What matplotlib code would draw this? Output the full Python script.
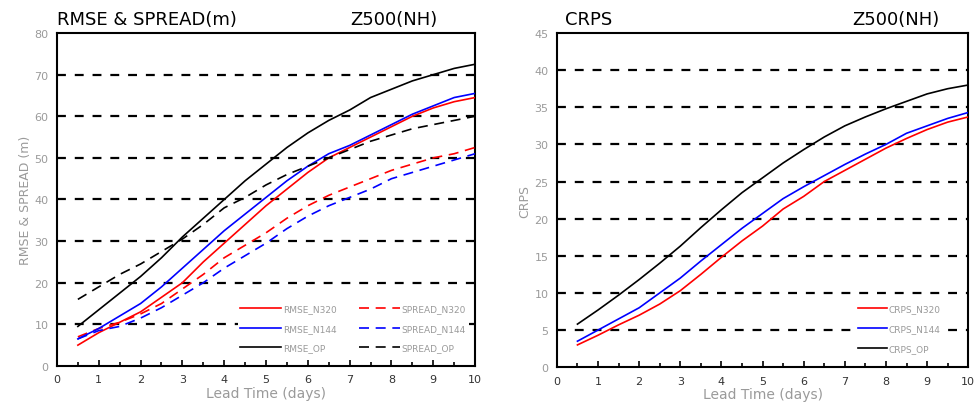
import matplotlib
matplotlib.use("Agg")
import matplotlib.pyplot as plt
from matplotlib.ticker import MultipleLocator

plt.rcParams['font.family'] = ['DejaVu Sans']

days = [0.5, 1, 1.5, 2, 2.5, 3, 3.5, 4, 4.5, 5, 5.5, 6, 6.5, 7, 7.5, 8, 8.5, 9, 9.5, 10]

rmse_n320 = [5, 8, 10.5, 13, 16.5, 20, 25, 29.5, 34, 38.5, 42.5, 46.5, 50, 52.5, 55, 57.5, 60, 62, 63.5, 64.5]
rmse_n144 = [6.5, 9, 12, 15, 19, 23.5, 28, 32.5, 36.5, 40.5, 44.5, 48, 51, 53, 55.5, 58, 60.5, 62.5, 64.5, 65.5]
rmse_op = [9.5, 13.5, 17.5, 21.5, 26, 31, 35.5, 40, 44.5, 48.5, 52.5, 56, 59, 61.5, 64.5, 66.5, 68.5, 70, 71.5, 72.5]
spread_n320 = [7, 9, 10.5, 12.5, 15, 18.5, 22, 26, 29, 32, 35.5, 38.5, 41, 43, 45, 47, 48.5, 50, 51, 52.5]
spread_n144 = [6.5, 8.5, 9.5, 11.5, 14, 17, 20, 23.5, 26.5, 29.5, 33, 36, 38.5, 40.5, 42.5, 45, 46.5, 48, 49.5, 51]
spread_op = [16, 19, 22, 24.5, 27.5, 30.5, 34, 38, 40.5, 43.5, 46, 48, 50, 52, 54, 55.5, 57, 58, 59, 60]

crps_n320 = [3, 4.3, 5.7, 7, 8.5, 10.3, 12.5, 14.8, 17, 19, 21.3, 23, 25, 26.5, 28, 29.5, 30.8, 32, 33, 33.7]
crps_n144 = [3.5, 5, 6.5, 8, 10, 12, 14.3, 16.5, 18.7, 20.7, 22.7, 24.3, 25.8, 27.3, 28.7, 30, 31.5, 32.5, 33.5, 34.3]
crps_op = [5.8, 7.7, 9.7, 11.8, 14, 16.3, 18.8, 21.2, 23.5, 25.5, 27.5, 29.3, 31, 32.5, 33.7, 34.8, 35.8, 36.8, 37.5, 38]

x_ticks = list(range(0, 11))
left_yticks = list(range(0, 81, 10))
right_yticks = list(range(0, 46, 5))

GRAY = '#9a9a9a'

fig = plt.figure(figsize=(9.77, 4.10), dpi=100)
ax1 = fig.add_axes([0.0583, 0.105, 0.428, 0.812])
ax2 = fig.add_axes([0.570, 0.102, 0.421, 0.815])


def style(ax, yticks, ylabel):
    ax.set_xlim(0, 10)
    ax.set_ylim(yticks[0], yticks[-1])
    ax.set_xticks(x_ticks)
    ax.xaxis.set_minor_locator(MultipleLocator(0.5))
    ax.set_yticks(yticks)
    for y in yticks[1:-1]:
        ax.axhline(y, color='black', lw=1.6, ls=(0, (4, 4)), zorder=1)
    ax.tick_params(axis='x', which='major', direction='in', length=4, width=1.2,
                   labelsize=8, labelcolor='#333333', pad=6)
    ax.tick_params(axis='x', which='minor', direction='in', length=3, width=1.2)
    ax.tick_params(axis='y', which='both', length=0, labelsize=8, labelcolor=GRAY, pad=6)
    for s in ax.spines.values():
        s.set_linewidth(1.5)
    ax.set_xlabel('Lead Time (days)', color=GRAY, fontsize=10, labelpad=1)
    ax.set_ylabel(ylabel, color=GRAY, fontsize=9, labelpad=2)


style(ax1, left_yticks, 'RMSE & SPREAD (m)')
style(ax2, right_yticks, 'CRPS')

lw = 1.2
ax1.plot(days, rmse_n320, color='red', lw=lw, label='RMSE_N320', zorder=3)
ax1.plot(days, spread_n320, color='red', lw=lw, ls=(0, (6, 4)), label='SPREAD_N320', zorder=3)
ax1.plot(days, rmse_n144, color='blue', lw=lw, label='RMSE_N144', zorder=3)
ax1.plot(days, spread_n144, color='blue', lw=lw, ls=(0, (6, 4)), label='SPREAD_N144', zorder=3)
ax1.plot(days, rmse_op, color='black', lw=lw, label='RMSE_OP', zorder=3)
ax1.plot(days, spread_op, color='black', lw=lw, ls=(0, (6, 4)), label='SPREAD_OP', zorder=3)

h, l = ax1.get_legend_handles_labels()
order = [0, 2, 4, 1, 3, 5]
leg1 = ax1.legend([h[i] for i in order], [l[i] for i in order], ncol=2,
                  loc='lower right', bbox_to_anchor=(0.995, 0.02), frameon=True,
                  fontsize=6.5, labelcolor=GRAY, handlelength=4.5, handletextpad=0.2,
                  columnspacing=2.5, labelspacing=1.15, borderpad=0.3)
leg1.get_frame().set_edgecolor('none')
leg1.get_frame().set_facecolor('white')
leg1.get_frame().set_alpha(1)
leg1.set_zorder(2)

ax2.plot(days, crps_n320, color='red', lw=lw, label='CRPS_N320', zorder=3)
ax2.plot(days, crps_n144, color='blue', lw=lw, label='CRPS_N144', zorder=3)
ax2.plot(days, crps_op, color='black', lw=lw, label='CRPS_OP', zorder=3)
leg2 = ax2.legend(loc='lower right', bbox_to_anchor=(0.95, 0.02), frameon=True,
                  fontsize=6.5, labelcolor=GRAY, handlelength=3.2, handletextpad=0.2,
                  labelspacing=1.2, borderpad=0.3)
leg2.get_frame().set_edgecolor('none')
leg2.get_frame().set_facecolor('white')
leg2.get_frame().set_alpha(1)
leg2.set_zorder(2)

ax1.text(0.0, 1.015, 'RMSE & SPREAD(m)', transform=ax1.transAxes, fontsize=13,
         ha='left', va='bottom')
ax1.text(0.91, 1.015, 'Z500(NH)', transform=ax1.transAxes, fontsize=13,
         ha='right', va='bottom')
ax2.text(0.02, 1.015, 'CRPS', transform=ax2.transAxes, fontsize=13,
         ha='left', va='bottom')
ax2.text(0.93, 1.015, 'Z500(NH)', transform=ax2.transAxes, fontsize=13,
         ha='right', va='bottom')

fig.savefig('out.png', dpi=100)
